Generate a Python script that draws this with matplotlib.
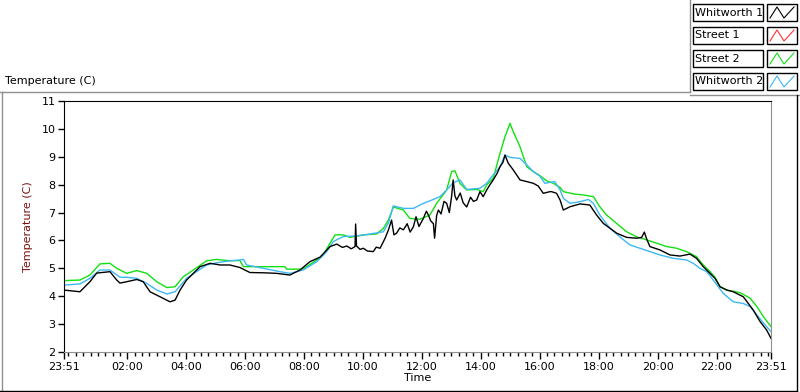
import matplotlib
matplotlib.use("Agg")
from matplotlib import pyplot as plt
from matplotlib.lines import Line2D
from matplotlib.patches import Rectangle
from matplotlib.ticker import FixedLocator

# hours since 23:51
w1_t = [0, 0.54, 0.88, 1.11, 1.56, 1.79, 1.90, 2.13, 2.47, 2.69, 2.92, 3.26, 3.60, 3.77,
        3.94, 4.16, 4.39, 4.62, 4.96, 5.30, 5.63, 5.97, 6.31, 6.77, 7.22, 7.67, 8.01,
        8.35, 8.69, 9.03, 9.26, 9.45, 9.60, 9.75, 9.88, 9.90, 9.93, 10.05, 10.16, 10.30,
        10.50, 10.60, 10.73, 10.90, 11.01, 11.12, 11.20, 11.29, 11.40, 11.52, 11.65,
        11.75, 11.86, 11.95, 12.05, 12.20, 12.30, 12.37, 12.45, 12.54, 12.58, 12.65,
        12.71, 12.80, 12.90, 12.99, 13.08, 13.16, 13.21, 13.27, 13.33, 13.45, 13.55,
        13.67, 13.80, 13.90, 14.01, 14.12, 14.23, 14.35, 14.46, 14.57, 14.70, 14.80,
        14.90, 14.97, 15.08, 15.25, 15.48, 15.71, 15.93, 16.10, 16.27, 16.50, 16.55,
        16.72, 16.84, 16.95, 17.18, 17.52, 17.85, 18.08, 18.31, 18.53, 18.76, 19.10,
        19.44, 19.61, 19.70, 19.78, 19.89, 20.23, 20.57, 20.91, 21.25, 21.47, 21.70,
        21.93, 22.10, 22.27, 22.50, 22.72, 23.06, 23.40, 23.63, 23.85, 24.0]
w1_v = [4.22, 4.16, 4.52, 4.83, 4.88, 4.58, 4.47, 4.52, 4.60, 4.52, 4.16, 3.98, 3.80, 3.86,
        4.22, 4.58, 4.82, 5.06, 5.18, 5.12, 5.12, 5.03, 4.85, 4.84, 4.82, 4.76, 4.94,
        5.24, 5.40, 5.78, 5.87, 5.75, 5.80, 5.70, 5.78, 6.59, 5.80, 5.68, 5.72, 5.62,
        5.60, 5.76, 5.72, 6.08, 6.37, 6.73, 6.20, 6.26, 6.45, 6.38, 6.60, 6.30, 6.49,
        6.85, 6.50, 6.79, 7.05, 6.91, 6.70, 6.60, 6.08, 6.90, 7.09, 6.95, 7.40, 7.33,
        7.00, 7.60, 8.17, 7.60, 7.45, 7.70, 7.35, 7.20, 7.55, 7.40, 7.45, 7.75, 7.57,
        7.81, 8.00, 8.17, 8.40, 8.64, 8.80, 9.06, 8.77, 8.53, 8.17, 8.11, 8.05, 7.95,
        7.69, 7.75, 7.75, 7.69, 7.45, 7.09, 7.21, 7.31, 7.27, 6.91, 6.61, 6.44, 6.26,
        6.11, 6.08, 6.11, 6.30, 6.05, 5.78, 5.66, 5.48, 5.44, 5.51, 5.36, 5.06, 4.82,
        4.64, 4.34, 4.22, 4.16, 3.98, 3.50, 3.09, 2.79, 2.49]

s1_t = []
s1_v = []

s2_t = [0, 0.54, 0.88, 1.22, 1.56, 1.79, 2.13, 2.47, 2.81, 3.15, 3.49, 3.77, 4.05, 4.39,
        4.84, 5.18, 5.63, 5.97, 6.09, 7.50, 7.56, 8.07, 8.24, 8.58, 8.80, 9.03, 9.20,
        9.48, 9.71, 10.16, 10.61, 10.84, 11.01, 11.18, 11.52, 11.74, 12.08, 12.42,
        12.65, 12.99, 13.16, 13.27, 13.44, 13.67, 14.01, 14.23, 14.35, 14.57, 14.80,
        14.97, 15.14, 15.25, 15.48, 15.71, 15.93, 16.16, 16.38, 16.61, 16.84, 16.95,
        17.29, 17.63, 17.97, 18.19, 18.42, 18.76, 19.10, 19.44, 19.78, 20.12, 20.46,
        20.80, 21.13, 21.47, 21.70, 21.93, 22.10, 22.27, 22.50, 22.95, 23.29, 23.52,
        23.74, 24.0]
s2_v = [4.56, 4.58, 4.76, 5.16, 5.18, 5.00, 4.82, 4.92, 4.82, 4.52, 4.31, 4.34, 4.70, 4.94,
        5.27, 5.32, 5.27, 5.28, 5.06, 5.06, 4.97, 4.97, 5.06, 5.30, 5.48, 5.90, 6.20,
        6.20, 6.11, 6.20, 6.23, 6.43, 6.73, 7.20, 7.09, 6.79, 6.76, 6.91,
        7.33, 7.81, 8.47, 8.50, 8.05, 7.81, 7.83, 7.75, 7.99, 8.23, 9.12,
        9.72, 10.20, 9.90, 9.36, 8.64, 8.47, 8.32, 8.14, 8.05, 7.90, 7.75,
        7.67, 7.63, 7.57, 7.21, 6.91, 6.61, 6.31, 6.13, 6.02, 5.90, 5.78,
        5.72, 5.60, 5.42, 5.12, 4.88, 4.68, 4.34, 4.22, 4.13, 3.93, 3.63,
        3.27, 2.91]

w2_t = [0, 0.54, 0.88, 1.22, 1.56, 1.90, 2.13, 2.47, 2.81, 3.15, 3.49, 3.77, 4.16, 4.50,
        4.84, 5.18, 5.63, 5.97, 6.09, 6.20, 6.77, 7.33, 7.67, 8.12, 8.58, 8.92, 9.14,
        9.48, 9.93, 10.39, 10.67, 10.84, 11.01, 11.18, 11.52, 11.86, 12.20, 12.54,
        12.76, 12.99, 13.21, 13.44, 13.67, 14.12, 14.35, 14.57, 14.80, 14.97, 15.14,
        15.48, 15.71, 15.93, 16.16, 16.32, 16.66, 16.84, 16.95, 17.18, 17.52, 17.80,
        17.97, 18.19, 18.53, 18.87, 19.21, 19.55, 19.89, 20.23, 20.68, 21.13, 21.36,
        21.59, 21.82, 22.04, 22.38, 22.72, 23.06, 23.29, 23.52, 23.80, 24.0]
w2_v = [4.40, 4.44, 4.64, 4.94, 4.94, 4.68, 4.68, 4.64, 4.46, 4.22, 4.08, 4.16, 4.64, 4.88,
        5.12, 5.20, 5.27, 5.30, 5.32, 5.12, 5.00, 4.88, 4.82, 4.94, 5.24, 5.60, 5.96,
        6.14, 6.16, 6.23, 6.28, 6.31, 6.62, 7.24, 7.15, 7.15, 7.33, 7.47,
        7.57, 7.81, 8.07, 8.17, 7.83, 7.87, 8.05, 8.35, 8.64, 9.06, 8.98,
        8.94, 8.71, 8.47, 8.30, 8.05, 8.11, 7.81, 7.51, 7.33, 7.39, 7.47,
        7.33, 6.91, 6.44, 6.13, 5.84, 5.72, 5.60, 5.48, 5.36, 5.30, 5.18,
        5.00, 4.88, 4.58, 4.10, 3.80, 3.74, 3.63, 3.33, 2.97, 2.73]

names = ["Whitworth 1", "Street 1", "Street 2", "Whitworth 2"]
colors = ["#000000", "#ff3030", "#12e012", "#3cb8f5"]

major_pos = [0, 2.15, 4.15, 6.15, 8.15, 10.15, 12.15, 14.15, 16.15, 18.15, 20.15, 22.15, 24]
major_lab = ["23:51", "02:00", "04:00", "06:00", "08:00", "10:00", "12:00", "14:00",
             "16:00", "18:00", "20:00", "22:00", "23:51"]
minor_pos = [0.15 + 0.25 * i for i in range(96)]

plt.rcParams['font.family'] = ['DejaVu Sans']
fig = plt.figure(figsize=(8, 3.92), dpi=100)
ax = fig.add_axes([64 / 800, 1 - 352 / 392, 707 / 800, 251 / 392])

ax.plot(s2_t, s2_v, color=colors[2], lw=1)
ax.plot(w2_t, w2_v, color=colors[3], lw=1)
ax.plot(s1_t, s1_v, color=colors[1], lw=1)
ax.plot(w1_t, w1_v, color=colors[0], lw=1)

ax.set_xlim(0, 24)
ax.set_ylim(2, 11)
ax.set_yticks(range(2, 12))
ax.xaxis.set_major_locator(FixedLocator(major_pos))
ax.set_xticklabels(major_lab)
ax.xaxis.set_minor_locator(FixedLocator(minor_pos))
ax.tick_params(axis='both', which='major', labelsize=8, length=4, width=1, pad=2)
ax.tick_params(axis='x', which='major', length=5)
ax.tick_params(axis='x', which='minor', length=3, width=1)
for s in ['left', 'top']:
    ax.spines[s].set_color('black')
for s in ['right', 'bottom']:
    ax.spines[s].set_color('#909090')

ax.set_ylabel("Temperature (C)", fontsize=8, color='#7a1010', labelpad=6)
ax.set_xlabel("Time", fontsize=8, labelpad=1)

fig.text(5 / 800, 1 - 81 / 392, "Temperature (C)", fontsize=8, va='center', ha='left')

# panel frame
fig.add_artist(Line2D([0, 690 / 800], [1 - 92 / 392] * 2, color='#909090', lw=1))
fig.add_artist(Line2D([690 / 800, 690 / 800], [1 - 92 / 392, 1], color='#909090', lw=1))
fig.add_artist(Line2D([690 / 800, 1], [1 - 95 / 392] * 2, color='#909090', lw=1))
fig.add_artist(Line2D([1.5 / 800, 1.5 / 800], [0, 1 - 92 / 392], color='#909090', lw=1))
fig.add_artist(Line2D([0, 797 / 800], [1.5 / 392, 1.5 / 392], color='black', lw=1))
fig.add_artist(Line2D([797 / 800, 797 / 800], [1.5 / 392, 1 - 95 / 392], color='black', lw=1))

# legend rows
for i, (name, c) in enumerate(zip(names, colors)):
    top = 4 + 23 * i
    fig.add_artist(Rectangle((693 / 800, 1 - (top + 17) / 392), 70 / 800, 17 / 392,
                             facecolor='white', edgecolor='black', lw=1))
    fig.text(695 / 800, 1 - (top + 8.5) / 392, name, fontsize=8, va='center', ha='left')
    fig.add_artist(Rectangle((767 / 800, 1 - (top + 17) / 392), 30 / 800, 17 / 392,
                             facecolor='white', edgecolor='black', lw=1))
    zx = [770, 777, 784, 794]
    zy = [top + 14, top + 3, top + 14, top + 3]
    fig.add_artist(Line2D([v / 800 for v in zx], [1 - v / 392 for v in zy], color=c, lw=0.8))

fig.savefig("out.png", dpi=100)
